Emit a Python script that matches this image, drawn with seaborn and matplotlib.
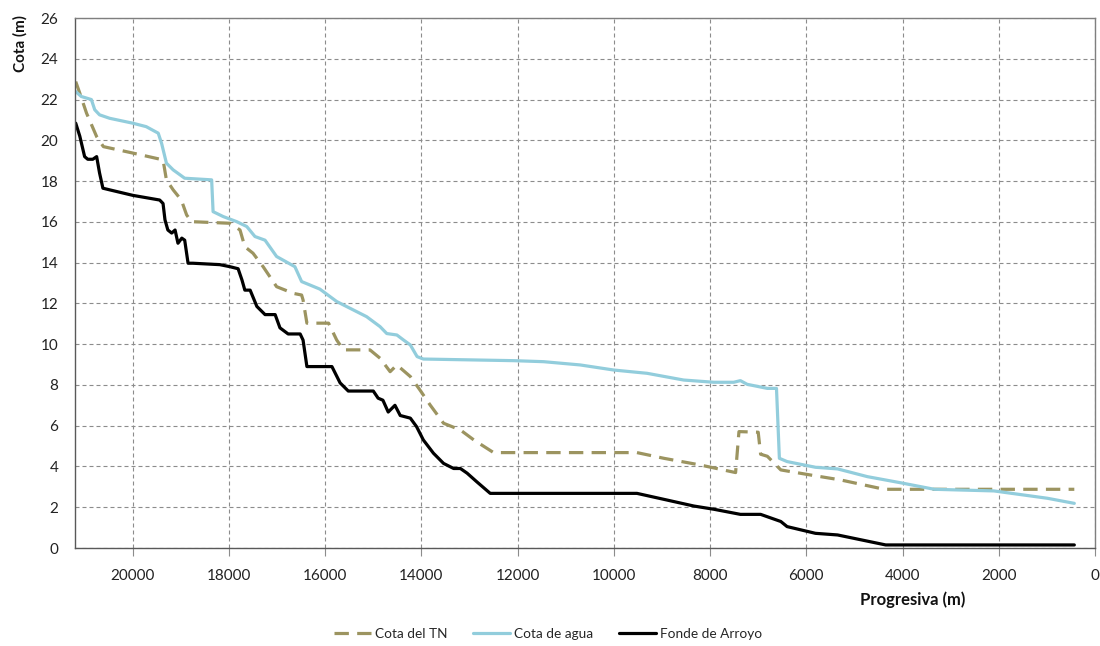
import matplotlib
matplotlib.use("Agg")
import matplotlib.pyplot as plt
import seaborn as sns
import pandas as pd

# ---- data ----
fondo_x = [21185, 21100, 21000, 20935, 20830, 20750, 20690, 20620, 20480, 20000,
           19440, 19370, 19330, 19270, 19190, 19120, 19060, 18980, 18920, 18850,
           18750, 18190, 17980, 17810, 17730, 17670, 17560, 17420, 17250, 17040,
           16940, 16770, 16520, 16460, 16380, 16270, 15860, 15690, 15520, 15000,
           14900, 14800, 14690, 14550, 14440, 14230, 14100, 13960, 13750, 13540,
           13330, 13190, 13050, 12850, 12570, 9520, 8890, 8340, 7920, 7370,
           6950, 6530, 6400, 5810, 5350, 4350, 430]
fondo_y = [20.84, 20.2, 19.2, 19.07, 19.07, 19.2, 18.4, 17.65, 17.57, 17.3,
           17.07, 16.9, 16.1, 15.6, 15.45, 15.6, 14.95, 15.2, 15.1, 13.97,
           13.97, 13.9, 13.8, 13.7, 13.15, 12.65, 12.65, 11.85, 11.45, 11.45,
           10.8, 10.5, 10.5, 10.2, 8.9, 8.9, 8.9, 8.1, 7.7, 7.7,
           7.35, 7.25, 6.67, 7.0, 6.5, 6.37, 5.95, 5.3, 4.65, 4.15,
           3.9, 3.9, 3.67, 3.25, 2.68, 2.68, 2.35, 2.06, 1.9, 1.65,
           1.65, 1.3, 1.05, 0.72, 0.64, 0.15, 0.15]

agua_x = [21185, 21070, 20860, 20790, 20690, 20480, 20000, 19720, 19470, 19400,
          19300, 19160, 18920, 18360, 18330, 18120, 17840, 17630, 17460, 17250,
          17010, 16630, 16490, 16110, 15760, 15140, 14860, 14720, 14510, 14370,
          14230, 14090, 13960, 12080, 11460, 10700, 10000, 9310, 8550, 7920,
          7510, 7370, 7230, 6810, 6620, 6560, 6400, 5810, 5350, 4730,
          4040, 3340, 2100, 990, 430]
agua_y = [22.39, 22.15, 22.0, 21.5, 21.25, 21.08, 20.84, 20.67, 20.35, 19.85,
          18.88, 18.55, 18.14, 18.06, 16.5, 16.26, 16.01, 15.77, 15.28, 15.1,
          14.3, 13.8, 13.07, 12.7, 12.09, 11.35, 10.86, 10.52, 10.45, 10.2,
          9.96, 9.39, 9.27, 9.19, 9.14, 8.98, 8.73, 8.57, 8.24, 8.13,
          8.13, 8.21, 8.03, 7.83, 7.83, 4.4, 4.24, 3.96, 3.88, 3.5,
          3.2, 2.88, 2.8, 2.44, 2.19]

tn_x = [21185, 21100, 20960, 20750, 20610, 19990, 19370, 19300, 19160, 18990,
        18880, 18780, 17980, 17770, 17670, 17500, 17290, 17010, 16660, 16490,
        16460, 16380, 15930, 15760, 15620, 15070, 14860, 14650, 14510, 14230,
        14030, 13820, 13540, 13190, 12910, 12500, 9520, 8960, 8200, 7470,
        7400, 7000, 6950, 6810, 6530, 5910, 5290, 4380, 430]
tn_y = [22.88, 22.31, 21.33, 20.18, 19.69, 19.37, 19.04, 18.06, 17.57, 17.07,
        16.34, 16.01, 15.93, 15.6, 14.78, 14.46, 13.8, 12.82, 12.49, 12.41,
        12.17, 11.03, 11.03, 10.2, 9.72, 9.72, 9.31, 8.65, 8.98, 8.41,
        7.75, 7.02, 6.12, 5.79, 5.3, 4.68, 4.68, 4.4, 4.07, 3.7,
        5.71, 5.68, 4.6, 4.5, 3.83, 3.58, 3.34, 2.88, 2.88]

x_ticks = [0, 2000, 4000, 6000, 8000, 10000, 12000, 14000, 16000, 18000, 20000]
y_ticks = [0, 2, 4, 6, 8, 10, 12, 14, 16, 18, 20, 22, 24, 26]

labels = ["Cota del TN", "Cota de agua", "Fonde de Arroyo"]

# ---- style ----
sns.set_theme(style="white")
plt.rcParams['font.family'] = ['Lato', 'DejaVu Sans']

fig = plt.figure(figsize=(11, 6.46), dpi=100)
ax = fig.add_axes([75/1100, 1-548/646, (1095-75)/1100, (548-18)/646])

df_tn = pd.DataFrame({"x": tn_x, "y": tn_y})
df_ag = pd.DataFrame({"x": agua_x, "y": agua_y})
df_fo = pd.DataFrame({"x": fondo_x, "y": fondo_y})

sns.lineplot(data=df_tn, x="x", y="y", ax=ax, sort=False, estimator=None,
             color="#9C9460", linewidth=2.3, linestyle=(0, (4.5, 2.6)),
             label=labels[0])
sns.lineplot(data=df_ag, x="x", y="y", ax=ax, sort=False, estimator=None,
             color="#92CDDC", linewidth=2.3, label=labels[1])
sns.lineplot(data=df_fo, x="x", y="y", ax=ax, sort=False, estimator=None,
             color="#000000", linewidth=2.3, label=labels[2])

ax.set_xlim(21200, 0)
ax.set_ylim(0, 26)
ax.set_xticks(x_ticks)
ax.set_yticks(y_ticks)
ax.set_xticklabels([str(v) for v in x_ticks])
ax.set_yticklabels([str(v) for v in y_ticks])

ax.grid(True, color="#8C8C8C", linestyle=(0, (3.6, 2.7)), linewidth=0.8)
for s in ax.spines.values():
    s.set_visible(True)
    s.set_color("#7F7F7F")
    s.set_linewidth(1.0)
ax.spines["left"].set_color("#595959")
ax.spines["bottom"].set_color("#595959")

ax.tick_params(axis="x", length=6, width=0.8, color="#8C8C8C", pad=9,
               labelsize=11, labelcolor="#222222", direction="out", bottom=True)
ax.tick_params(axis="y", length=0, pad=12, labelsize=11, labelcolor="#222222")

ax.set_xlabel("")
ax.set_ylabel("")
fig.text(20/1100, 1-43/646, "Cota (m)", rotation=90, ha="center", va="center",
         fontsize=11, fontweight="bold", color="#111111")
fig.text(913/1100, 1-600/646, "Progresiva (m)", ha="center", va="center",
         fontsize=12, fontweight="bold", color="#111111")

ax.legend_.remove()
handles, labs = ax.get_legend_handles_labels()
fig.legend(handles, labs, loc="center", bbox_to_anchor=(548/1100, 1-634/646),
           ncol=3, frameon=False, fontsize=9.8, handlelength=2.7,
           handletextpad=0.3, columnspacing=1.9)

fig.savefig("out.png", dpi=100)
